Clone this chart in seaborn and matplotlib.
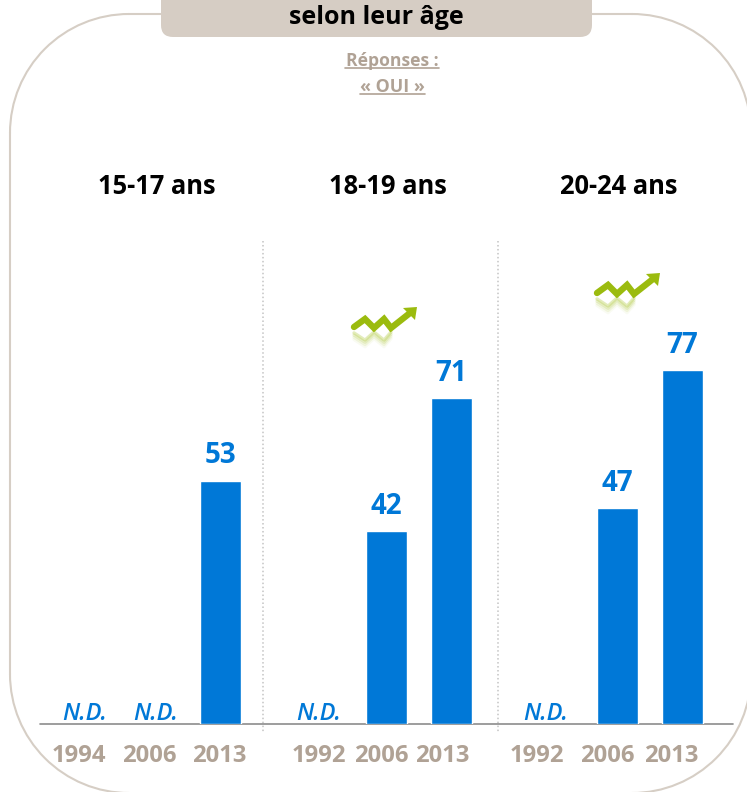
import matplotlib
matplotlib.use('Agg')
import matplotlib.pyplot as plt
import pandas as pd
import seaborn as sns
from matplotlib.patches import Arc, FancyBboxPatch, Polygon

# Data
groups = ['15-17 ans', '18-19 ans', '20-24 ans']
years_a = ['1994', '2006', '2013']
years_b = ['1992', '2006', '2013']
values_a = [None, None, 53]
values_b = [None, 42, 71]
values_c = [None, 47, 77]

BLUE = '#0078d7'
TAN = '#b0a295'
FRAME = '#d6cec5'
GREEN = '#9bbb0e'
FONT = 'Open Sans'

sns.set_theme(style='white')
plt.rcParams['font.family'] = [FONT, 'DejaVu Sans']

W, H = 747, 792
fig = plt.figure(figsize=(W / 100, H / 100), dpi=100, facecolor='white')

# background layer in pixel coordinates
bg = fig.add_axes([0, 0, 1, 1])
bg.set_xlim(0, W)
bg.set_ylim(H, 0)
bg.axis('off')

# outer frame, runs off the right and bottom edges
fl, fr, ft, fb, r = 10, 751, 14, 793, 119
for cx, cy, start in [(fl + r, ft + r, 180), (fr - r, ft + r, 270), (fr - r, fb - r, 0), (fl + r, fb - r, 90)]:
    bg.add_patch(Arc((cx, cy), 2 * r, 2 * r, theta1=start, theta2=start + 90, ec=FRAME, lw=1.5))
bg.plot([fl + r, fr - r], [ft, ft], color=FRAME, lw=1.5)
bg.plot([fl, fl], [ft + r, fb - r], color=FRAME, lw=1.5)

bg.add_patch(FancyBboxPatch((161, -30), 431, 67, boxstyle='round,pad=0,rounding_size=12',
                            fc='#d6cdc4', ec='none', zorder=2))
bg.text(376, 18, 'selon leur âge', ha='center', va='center', fontsize=18, fontweight='bold', color='black', zorder=3)

bg.text(392, 61, 'Réponses :', ha='center', va='center', fontsize=12.6, fontweight='bold', color=TAN)
bg.plot([345, 439], [68, 68], color=TAN, lw=1.2)
bg.text(392, 87, '« OUI »', ha='center', va='center', fontsize=12.9, fontweight='bold', color=TAN)
bg.plot([360, 425], [94, 94], color=TAN, lw=1.2)

for sep in [263, 498]:
    bg.plot([sep, sep], [241, 733], color='#c4c4c4', lw=1.1, ls=(0, (1, 1.6)))
bg.plot([40, 733], [724, 724], color='#8c8c8c', lw=1.2, zorder=5)


def trend_arrow(dx, dy):
    xs = [354, 365, 374, 384, 391, 410]
    ys = [327, 319, 328, 319, 328, 313]
    # faint reflection under the arrow, fading out downwards
    for k, a in enumerate([0.28, 0.18, 0.10, 0.05]):
        bg.plot([x + dx for x in xs[:5]], [332 + (328 - y) * 0.9 + k * 2.2 + dy for y in ys[:5]],
                color=GREEN, lw=2.4, alpha=a, solid_joinstyle='round')
    bg.plot([x + dx for x in xs], [y + dy for y in ys], color=GREEN, lw=4.6,
            solid_joinstyle='miter', solid_capstyle='round')
    bg.add_patch(Polygon([(417 + dx, 307 + dy), (403 + dx, 308 + dy), (415 + dx, 320 + dy)],
                         fc=GREEN, ec='none'))


trend_arrow(0, 0)
trend_arrow(243, -34)

panels = [
    (57.7, years_a, values_a, [-11.5, -5.5, -0.5], 156.5),
    (288.7, years_b, values_b, [-2.5, -4.5, -8.5], 387.5),
    (520, years_b, values_c, [-16, -10, -11.5], 618.5),
]
nd_shift = {0: [-5.5, 0.5], 1: [-2.5], 2: [-7]}

for i, (left, years, values, tick_shift, title_x) in enumerate(panels):
    ax = fig.add_axes([left / W, (H - 724) / H, 195 / W, 483 / H], facecolor='none')
    df = pd.DataFrame({'annee': years, 'pct': pd.array(values, dtype='Float64').astype('float')})
    sns.barplot(data=df, x='annee', y='pct', order=years, color=BLUE, width=0.635, saturation=1, ax=ax)
    ax.set_xlim(-0.5, 2.5)
    ax.set_ylim(0, 105.2)
    ax.set_xlabel('')
    ax.set_ylabel('')
    ax.set_yticks([])
    ax.set_xticks([p + s / 65 for p, s in enumerate(tick_shift)])
    ax.set_xticklabels(years, fontsize=17.2, fontweight='bold', color=TAN)
    ax.tick_params(axis='x', length=0, pad=14.5)
    sns.despine(ax=ax, left=True, bottom=True)

    shifts = iter(nd_shift[i])
    for p, v in enumerate(values):
        if v is None:
            ax.annotate('N.D.', (p, 0), xytext=(next(shifts) * 0.72, 7.5), textcoords='offset points',
                        ha='center', va='center', fontsize=17, fontstyle='italic', fontweight=600, color=BLUE)
        else:
            ax.annotate(str(v), (p, v), xytext=(0, 18), textcoords='offset points',
                        ha='center', va='center', fontsize=20, fontweight='bold', color=BLUE)

    bg.text(title_x, 186, groups[i], ha='center', va='center', fontsize=18.4, fontweight='bold', color='black')

fig.savefig('out.png', dpi=100)
